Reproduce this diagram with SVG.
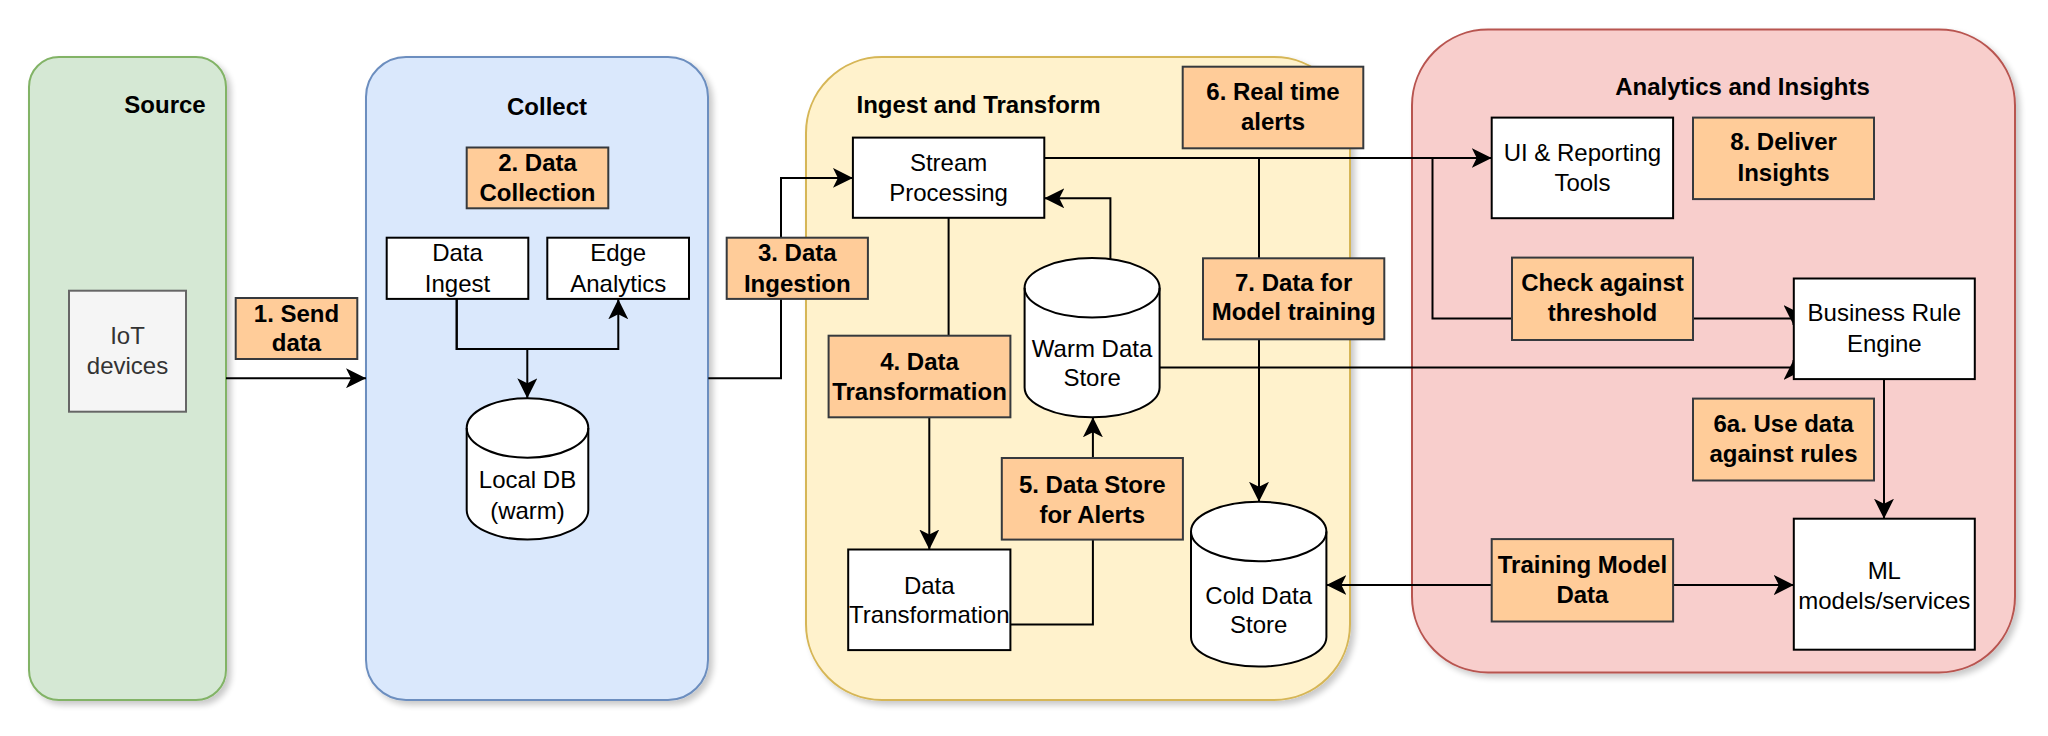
<svg xmlns="http://www.w3.org/2000/svg" width="2048" height="736" viewBox="0 0 2048 736">
<style>
text{font-family:"Liberation Sans",Arial,sans-serif;font-size:24px;text-anchor:middle;fill:#000}
.t{font-weight:bold}
.lb text{font-weight:bold}
.lb rect{fill:#ffcc99;stroke:#36393d;stroke-width:2}
.bx{fill:#fff;stroke:#000;stroke-width:2}
.cy{fill:#fff;stroke:#000;stroke-width:2}
.e{fill:none;stroke:#000;stroke-width:2}
.ea{fill:none;stroke:#000;stroke-width:2;marker-end:url(#arr)}
</style>
<defs>
<filter id="sh" x="-10%" y="-10%" width="130%" height="130%">
<feGaussianBlur in="SourceAlpha" stdDeviation="3"/>
<feOffset dx="4" dy="4"/>
<feComponentTransfer><feFuncA type="linear" slope="0.22"/></feComponentTransfer>
<feMerge><feMergeNode/><feMergeNode in="SourceGraphic"/></feMerge>
</filter>
<marker id="arr" viewBox="-20 -10 20 20" refX="0" refY="0" markerWidth="20" markerHeight="20" markerUnits="userSpaceOnUse" orient="auto-start-reverse">
<path d="M0,0 L-20,-10 L-15,0 L-20,10 Z" fill="#000"/>
</marker>
</defs>
<rect width="2048" height="736" fill="#fff"/>

<g id="source">
<rect x="29" y="57" width="197" height="643" rx="30" fill="#d5e8d4" stroke="#82b366" stroke-width="2" filter="url(#sh)"/>
<text class="t" x="165" y="113">Source</text>
</g>
<g id="collect">
<rect x="366" y="57" width="342" height="643" rx="40" fill="#dae8fc" stroke="#6c8ebf" stroke-width="2" filter="url(#sh)"/>
<text class="t" x="547" y="114.5">Collect</text>
</g>
<g id="ingest">
<rect x="806" y="57" width="544" height="643" rx="76" fill="#fff2cc" stroke="#d6b656" stroke-width="2" filter="url(#sh)"/>
<text class="t" x="978.5" y="113">Ingest and Transform</text>
</g>
<g id="analytics">
<rect x="1412" y="29.5" width="603" height="643" rx="76" fill="#f8cecc" stroke="#b85450" stroke-width="2" filter="url(#sh)"/>
<text class="t" x="1742.5" y="95">Analytics and Insights</text>
</g>

<g id="connectors">
<path class="ea" d="M226,378.2 H366"/>
<path class="ea" d="M456.7,299 V349 H618.3 V299.3"/>
<path class="ea" d="M456.7,299 V349 H527.3 V398.3"/>
<path class="ea" d="M708.3,378.2 H781 V177.9 H852.9"/>
<path class="ea" d="M948.6,217.8 V376 H929.3 V549.5"/>
<path class="ea" d="M1010.4,624.6 H1092.9 V417.3"/>
<path class="ea" d="M1110.4,259 V198.3 H1044.3"/>
<path class="ea" d="M1044.3,158 H1491.7"/>
<path class="ea" d="M1044.3,158 H1259 V501.8"/>
<path class="ea" d="M1044.3,158 H1432.5 V318.4 H1793.5 V325"/>
<path class="ea" d="M1159.6,367.4 H1793.5 V360"/>
<path class="ea" d="M1884,379 V518.7"/>
<path class="ea" d="M1326.4,585 H1793.8" style="marker-start:url(#arr)"/>
</g>

<g id="iot">
<rect x="69" y="290.7" width="117" height="121" fill="#f5f5f5" stroke="#666666" stroke-width="2"/>
<text x="127.5" y="343.6" style="fill:#333333">IoT</text>
<text x="127.5" y="373.9" style="fill:#333333">devices</text>
</g>
<g id="data-ingest">
<rect class="bx" x="386.7" y="237.7" width="141.6" height="61.2"/>
<text x="457.5" y="261.2">Data</text>
<text x="457.5" y="291.5">Ingest</text>
</g>
<g id="edge-analytics">
<rect class="bx" x="547.3" y="237.7" width="141.7" height="61.2"/>
<text x="618.2" y="261.2">Edge</text>
<text x="618.2" y="291.5">Analytics</text>
</g>
<g id="local-db">
<path class="cy" d="M466.7,428 A60.8,29.7 0 0 1 588.3,428 V509.9 A60.8,29.7 0 0 1 466.7,509.9 Z"/>
<path class="e" d="M466.7,428 A60.8,29.7 0 0 0 588.3,428"/>
<text x="527.5" y="488">Local DB</text>
<text x="527.5" y="519.2">(warm)</text>
</g>
<g id="stream-processing">
<rect class="bx" x="852.9" y="137.6" width="191.4" height="80.2"/>
<text x="948.6" y="171">Stream</text>
<text x="948.6" y="201.3">Processing</text>
</g>
<g id="data-transformation">
<rect class="bx" x="848.2" y="549.5" width="162.2" height="100.6"/>
<text x="929.3" y="593.8">Data</text>
<text x="929.3" y="623.3">Transformation</text>
</g>
<g id="warm-data-store">
<path class="cy" d="M1024.6,287.8 A67.5,29.7 0 0 1 1159.6,287.8 V387.6 A67.5,29.7 0 0 1 1024.6,387.6 Z"/>
<path class="e" d="M1024.6,287.8 A67.5,29.7 0 0 0 1159.6,287.8"/>
<text x="1092.1" y="356.6">Warm Data</text>
<text x="1092.1" y="386">Store</text>
</g>
<g id="cold-data-store">
<path class="cy" d="M1191,531.5 A67.7,29.7 0 0 1 1326.4,531.5 V636.9 A67.7,29.7 0 0 1 1191,636.9 Z"/>
<path class="e" d="M1191,531.5 A67.7,29.7 0 0 0 1326.4,531.5"/>
<text x="1258.7" y="603.7">Cold Data</text>
<text x="1258.7" y="632.8">Store</text>
</g>
<g id="ui-reporting">
<rect class="bx" x="1491.7" y="117.6" width="181.4" height="100.6"/>
<text x="1582.4" y="160.9">UI &amp; Reporting</text>
<text x="1582.4" y="191.3">Tools</text>
</g>
<g id="business-rule-engine">
<rect class="bx" x="1793.8" y="278.5" width="181" height="100.6"/>
<text x="1884.3" y="321.4">Business Rule</text>
<text x="1884.3" y="351.7">Engine</text>
</g>
<g id="ml-models">
<rect class="bx" x="1793.8" y="518.7" width="181" height="131"/>
<text x="1884.3" y="578.5">ML</text>
<text x="1884.3" y="608.5">models/services</text>
</g>

<g id="label-1" class="lb">
<rect x="235.7" y="298" width="121.6" height="61"/>
<text x="296.5" y="321.9">1. Send</text>
<text x="296.5" y="351.4">data</text>
</g>
<g id="label-2" class="lb">
<rect x="466.7" y="147.5" width="141.6" height="60.8"/>
<text x="537.5" y="171">2. Data</text>
<text x="537.5" y="201.3">Collection</text>
</g>
<g id="label-3" class="lb">
<rect x="726.7" y="237.7" width="141.2" height="61.2"/>
<text x="797.3" y="261.2">3. Data</text>
<text x="797.3" y="291.5">Ingestion</text>
</g>
<g id="label-4" class="lb">
<rect x="828.6" y="335.7" width="181.8" height="81.6"/>
<text x="919.5" y="370.4">4. Data</text>
<text x="919.5" y="399.9">Transformation</text>
</g>
<g id="label-5" class="lb">
<rect x="1001.8" y="458" width="181.1" height="81.6"/>
<text x="1092.3" y="493.2">5. Data Store</text>
<text x="1092.3" y="522.7">for Alerts</text>
</g>
<g id="label-6" class="lb">
<rect x="1182.7" y="66.7" width="180.6" height="81.6"/>
<text x="1273" y="100">6. Real time</text>
<text x="1273" y="130">alerts</text>
</g>
<g id="label-7" class="lb">
<rect x="1203" y="258.3" width="181.3" height="81"/>
<text x="1293.7" y="290.7">7. Data for</text>
<text x="1293.7" y="320">Model training</text>
</g>
<g id="label-8" class="lb">
<rect x="1693" y="117.6" width="181" height="81.5"/>
<text x="1783.5" y="150.1">8. Deliver</text>
<text x="1783.5" y="181.3">Insights</text>
</g>
<g id="label-threshold" class="lb">
<rect x="1512" y="257.6" width="181" height="82.4"/>
<text x="1602.5" y="291">Check against</text>
<text x="1602.5" y="321.4">threshold</text>
</g>
<g id="label-6a" class="lb">
<rect x="1693" y="398.6" width="181" height="81.9"/>
<text x="1783.5" y="432">6a. Use data</text>
<text x="1783.5" y="461.5">against rules</text>
</g>
<g id="label-training" class="lb">
<rect x="1491.7" y="539.1" width="181.4" height="82.4"/>
<text x="1582.4" y="572.9">Training Model</text>
<text x="1582.4" y="603.3">Data</text>
</g>
</svg>
